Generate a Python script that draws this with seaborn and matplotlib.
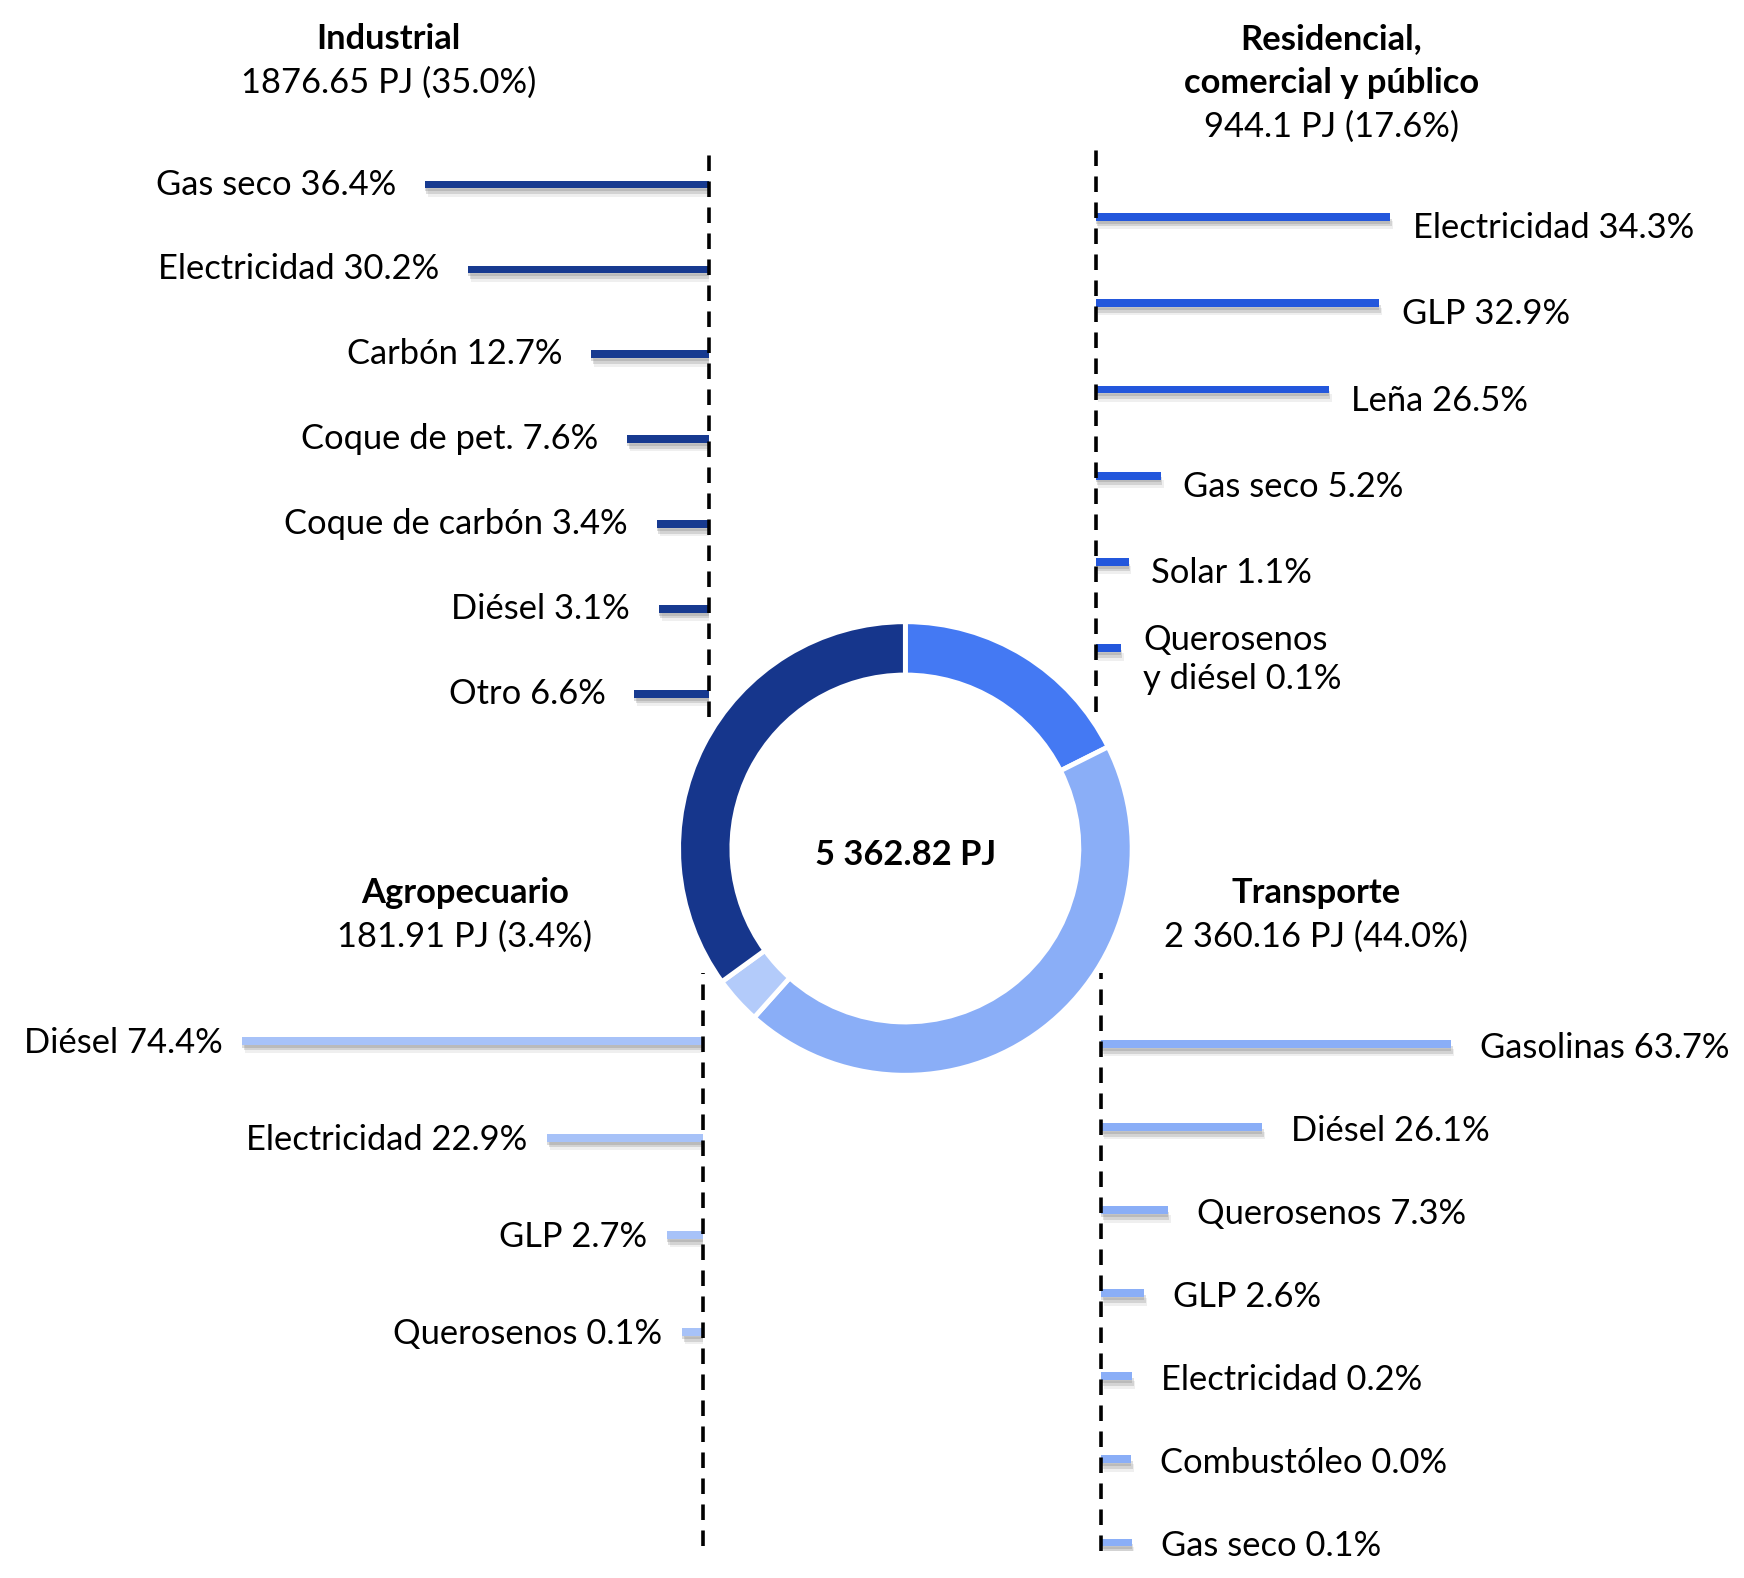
import matplotlib
matplotlib.use("Agg")
import matplotlib.pyplot as plt
import seaborn as sns
import pandas as pd
from matplotlib import patheffects as pe

# ---------------- data ----------------
sector_names = ["Residencial,\ncomercial y público", "Transporte", "Agropecuario", "Industrial"]
sector_pj = [944.1, 2360.16, 181.91, 1876.65]
sector_pj_labels = ["944.1", "2 360.16", "181.91", "1876.65"]
sector_pct = [17.6, 44.0, 3.4, 35.0]
total_label = "5 362.82 PJ"

ind_fuels = ["Gas seco", "Electricidad", "Carbón", "Coque de pet.", "Coque de carbón", "Diésel", "Otro"]
ind_pct = [36.4, 30.2, 12.7, 7.6, 3.4, 3.1, 6.6]
res_fuels = ["Electricidad", "GLP", "Leña", "Gas seco", "Solar", "Querosenos\ny diésel"]
res_pct = [34.3, 32.9, 26.5, 5.2, 1.1, 0.1]
tra_fuels = ["Gasolinas", "Diésel", "Querosenos", "GLP", "Electricidad", "Combustóleo", "Gas seco"]
tra_pct = [63.7, 26.1, 7.3, 2.6, 0.2, 0.0, 0.1]
agr_fuels = ["Diésel", "Electricidad", "GLP", "Querosenos"]
agr_pct = [74.4, 22.9, 2.7, 0.1]

donut_colors = ["#4479F3", "#8AAEF7", "#B3CBFA", "#16368C"]

# ---------------- style ----------------
sns.set_theme(style="white")
plt.rcParams["font.family"] = ["Lato", "DejaVu Sans"]
plt.rcParams["text.color"] = "black"
FS = 24.8

W, H = 1568.0, 1419.0          # layout units (reference preview)
SC = 1744.0 / 1568.0           # layout px -> output px

fig = plt.figure(figsize=(17.44, 15.78), dpi=100)
fig.patch.set_facecolor("white")


def fx(x):
    return x / W


def fy(y):
    return 1 - y / H


SHADOW = [
    pe.SimplePatchShadow(offset=(0, -2), shadow_rgbFace="#707070", alpha=0.25),
    pe.SimplePatchShadow(offset=(1, -4), shadow_rgbFace="#707070", alpha=0.22),
    pe.SimplePatchShadow(offset=(2, -6), shadow_rgbFace="#808080", alpha=0.12),
    pe.Normal(),
]


def panel(fuels, pct, color, base_x, line_top, line_bot, y_first, y_last,
          max_len, stub, direction, gap, dy):
    n = len(pct)
    step = (y_last - y_first) / (n - 1)
    k = (max_len - stub) / max(pct)
    s = stub / k
    X = max(pct)
    if direction > 0:
        left, right = base_x, base_x + max_len + 2
    else:
        left, right = base_x - max_len - 2, base_x
    ax = fig.add_axes([fx(left), fy(line_bot), (right - left) / W, (line_bot - line_top) / H])
    df = pd.DataFrame({"fuel": fuels, "pct": pct})
    sns.barplot(data=df, x="pct", y="fuel", orient="h", color=color, saturation=1,
                width=7.0 / step, ax=ax, errorbar=None)
    # extend each bar back to the dashed baseline (minimum visible stub)
    for p in ax.patches:
        w = p.get_width()
        p.set_x(-s)
        p.set_width(w + s)
        p.set_linewidth(0)
        p.set_path_effects(SHADOW)
    top_val = (line_top - y_first) / step
    bot_val = (line_bot - y_first) / step
    ax.set_ylim(bot_val, top_val)
    if direction > 0:
        ax.set_xlim(-s, X + 2 / k)
    else:
        ax.set_xlim(X + 2 / k, -s)
    ax.axvline(-s, color="black", lw=2.6, dashes=(4.3, 2.9), zorder=5, clip_on=False)
    ax.axis("off")
    for i, (f, v) in enumerate(zip(fuels, pct)):
        lab = f"{f} {v:.1f}%"
        ax.annotate(lab, xy=(v, i), xytext=(direction * gap * SC, -dy * SC),
                    textcoords="offset pixels", ha="left" if direction > 0 else "right",
                    va="center", fontsize=FS, color="black", linespacing=1.25,
                    annotation_clip=False)
    return ax


panel(ind_fuels, ind_pct, "#173A90", 637, 135, 645, 166, 624, 255, 25, -1, 26, 0)
panel(res_fuels, res_pct, "#2357DC", 985, 135, 640, 195, 583, 265, 22, 1, 20, 10)
panel(agr_fuels, agr_pct, "#A7C2F8", 632, 875, 1390, 936, 1198, 414, 18, -1, 18, 2)
panel(tra_fuels, tra_pct, "#8AAEF7", 990, 875, 1395, 939, 1387, 315, 27, 1, 26, 3)

# ---------------- donut ----------------
cx, cy, R = 814, 763, 208
axp = fig.add_axes([fx(cx - R), fy(cy + R), 2 * R / W, 2 * R / H])
axp.pie(sector_pj, colors=donut_colors, startangle=90, counterclock=False,
        wedgeprops=dict(width=0.235, edgecolor="white", linewidth=3.5))
axp.set_xlim(-1.02, 1.02)
axp.set_ylim(-1.02, 1.02)
axp.set_aspect("equal")
axp.axis("off")
axp.text(0, -0.03, total_label, ha="center", va="center", fontsize=FS, weight="bold",
         color="black")

# ---------------- sector titles ----------------
def title(xc, y0, name, pj, pct):
    lines = name.split("\n")
    y = y0
    for ln in lines:
        fig.text(fx(xc), fy(y), ln, ha="center", va="center", fontsize=FS, weight="bold",
                 color="black")
        y += 39.5
    fig.text(fx(xc), fy(y), f"{pj} PJ ({pct:.1f}%)", ha="center", va="center", fontsize=FS,
             color="black")

title(1197, 35, sector_names[0], sector_pj_labels[0], sector_pct[0])
title(1183, 803, sector_names[1], sector_pj_labels[1], sector_pct[1])
title(418, 803, sector_names[2], sector_pj_labels[2], sector_pct[2])
title(349, 35, sector_names[3], sector_pj_labels[3], sector_pct[3])

fig.savefig("out.png", dpi=100, facecolor="white")
